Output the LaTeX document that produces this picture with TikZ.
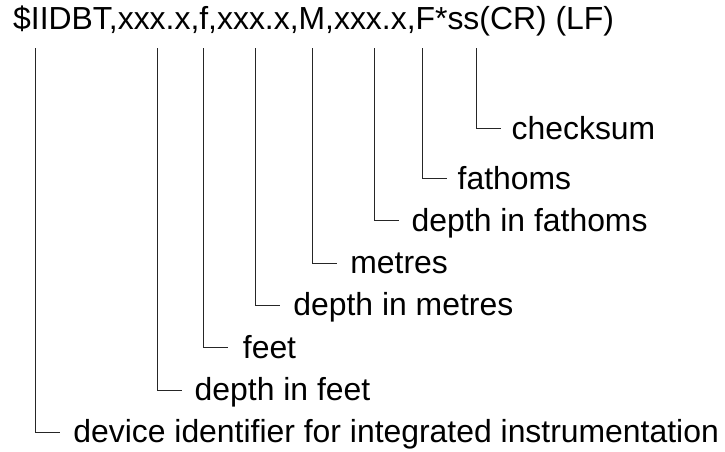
\documentclass[tikz,border=0pt]{standalone}
\usepackage{fontspec}
\setmainfont{Liberation Sans}
\begin{document}
\begin{tikzpicture}[x=1pt,y=-1pt,
  lbl/.style={anchor=base west,inner sep=0pt,font=\fontsize{31.9}{36}\selectfont},
  conn/.style={draw=black!85,line width=1pt}]
\useasboundingbox (0,0) rectangle (725,451);
\node[lbl] (hdr) at (13,29.5) {\$IIDBT,xxx.x,f,xxx.x,M,xxx.x,F*ss(CR) (LF)};
% top ends of connectors
\coordinate (t1) at (35.7,48);
\coordinate (t2) at (157,48);
\coordinate (t3) at (203.7,48);
\coordinate (t4) at (255.7,48);
\coordinate (t5) at (312.7,48);
\coordinate (t6) at (374,48);
\coordinate (t7) at (422,48);
\coordinate (t8) at (476.7,48);
% elbow ends
\coordinate (e8) at (501.2,128.3);
\coordinate (e7) at (446.5,178.3);
\coordinate (e6) at (398.5,220.6);
\coordinate (e5) at (337.2,263);
\coordinate (e4) at (280.2,305.3);
\coordinate (e3) at (228.2,347.6);
\coordinate (e2) at (181.5,390);
\coordinate (e1) at (60.2,432.3);
% labels
\node[lbl] (l8) at (511.5,139.5) {checksum};
\node[lbl] (l7) at (457.5,189) {fathoms};
\node[lbl] (l6) at (411.5,231.1) {depth in fathoms};
\node[lbl] (l5) at (350.2,273.5) {metres};
\node[lbl] (l4) at (293.2,315.8) {depth in metres};
\node[lbl] (l3) at (242.7,358.1) {feet};
\node[lbl] (l2) at (194.5,400.5) {depth in feet};
\node[lbl] (l1) at (73.2,442.8) {device identifier for integrated instrumentation};
\foreach \i in {1,...,8}{\draw[conn] (t\i) |- (e\i);}
\end{tikzpicture}
\end{document}
